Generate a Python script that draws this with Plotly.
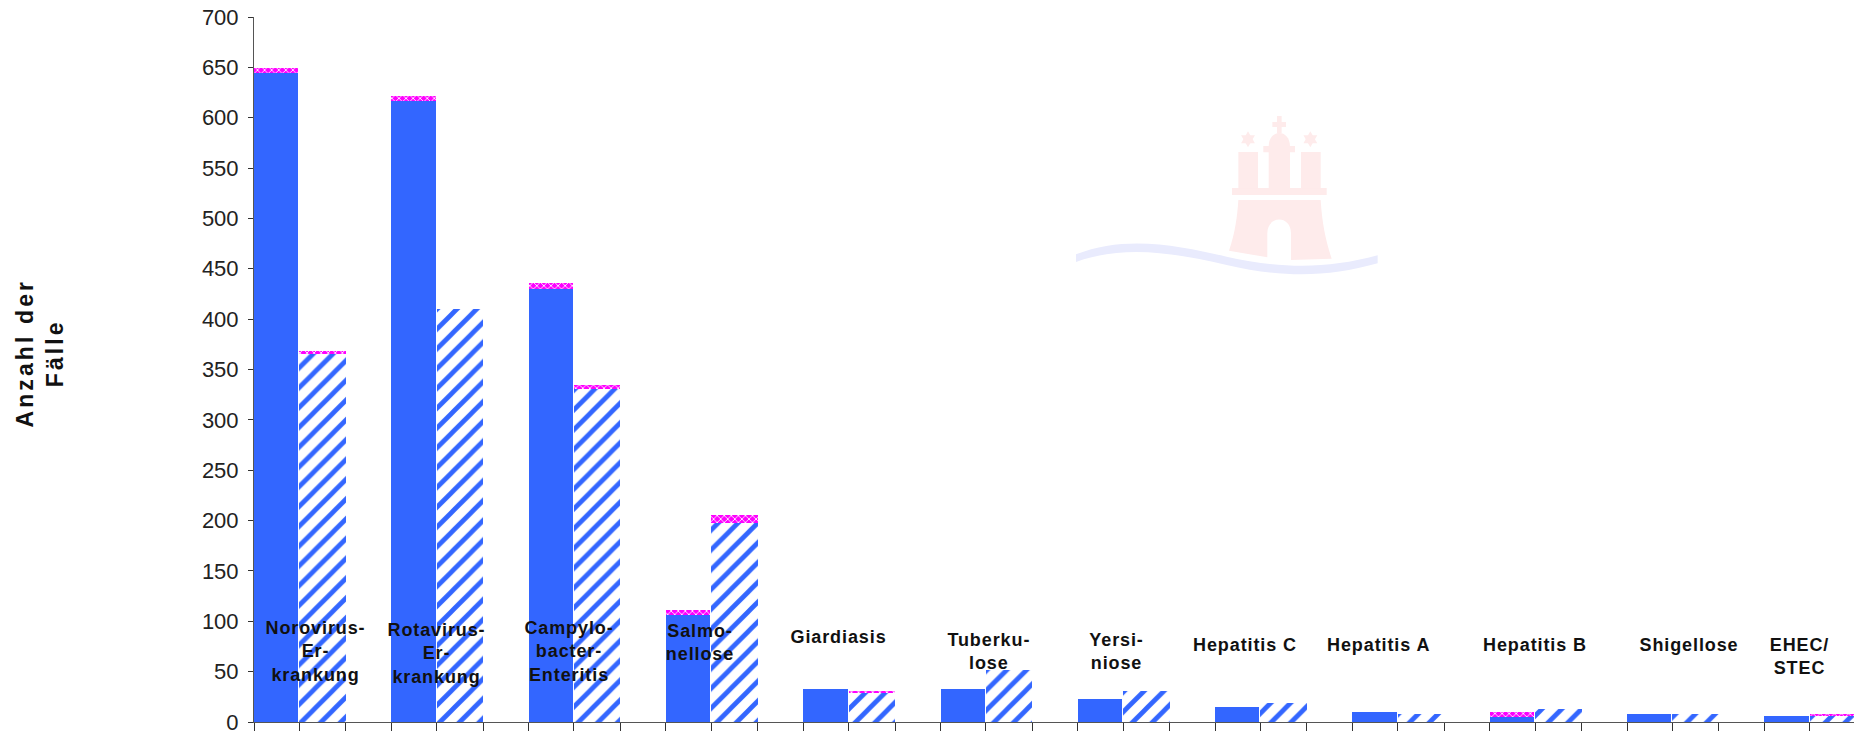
import plotly.graph_objects as go

categories = ["Norovirus-<br>Er-<br>krankung", "Rotavirus-<br>Er-<br>krankung", "Campylo-<br>bacter-<br>Enteritis",
              "Salmo-<br>nellose", "Giardiasis", "Tuberku-<br>lose", "Yersi-<br>niose", "Hepatitis C",
              "Hepatitis A", "Hepatitis B", "Shigellose", "EHEC/<br>STEC"]
solid_base = [644, 617, 430, 106, 33, 33, 23, 15, 10, 5, 8, 6]
solid_top = [5, 5, 6, 5, 0, 0, 0, 0, 0, 5, 0, 0]
hatched_base = [365, 410, 331, 198, 29, 52, 31, 19, 8, 13, 8, 6]
hatched_top = [3, 0, 4, 8, 2, 0, 0, 0, 0, 0, 0, 2]
y_ticks = list(range(0, 701, 50))
y_title = "Anzahl der<br>Fälle"

# Label anchors, in group units from each group's left edge and in axis values
label_dx = [0.448, 0.327, 0.293, 0.25, 0.258, 0.353, 0.284, 0.22, 0.19, 0.332, 0.448, 0.258]
label_y = [70, 68, 70, 79, 84, 70, 70, 76, 76, 76, 76, 65]

W, H = 1854, 731
L, R, T, B = 254, 0, 17, 9
BLUE, MAGENTA = "#3366FF", "#FF00FF"
GROUP_PX = 137.3
groups = list(range(len(categories)))
first_w = 44.3 / GROUP_PX
second_x = 45.3 / GROUP_PX
second_w = 46.5 / GROUP_PX

top_pattern = dict(shape="x", size=5, solidity=0.3, fgcolor="#FFFFFF", fgopacity=1, bgcolor=MAGENTA)
hatch_pattern = dict(shape="/", size=14, solidity=0.34, fgcolor=BLUE, fgopacity=1, bgcolor="#FFFFFF")

fig = go.Figure()
fig.add_bar(x=groups, y=solid_base, width=first_w, offset=0, marker=dict(color=BLUE, line_width=0))
fig.add_bar(x=groups, y=solid_top, width=first_w, offset=0,
            marker=dict(color=MAGENTA, line_width=0, pattern=top_pattern))
hatched_x = [g + second_x for g in groups]
fig.add_bar(x=hatched_x, y=hatched_base, width=second_w, offset=0,
            marker=dict(color="#FFFFFF", line_width=0, pattern=hatch_pattern))
fig.add_bar(x=hatched_x, y=hatched_top, width=second_w, offset=0,
            marker=dict(color=MAGENTA, line_width=0, pattern=top_pattern))


def px(x, y):
    """Emblem drawing units to paper coordinates."""
    X, Y = 1040 + x / 3, 100 + y / 3
    return f"{(X - L) / (W - L - R):.5f},{1 - (Y - T) / (H - T - B):.5f}"


def poly(points):
    return "M" + " L".join(px(*p) for p in points) + " Z"


def rect(x0, y0, x1, y1):
    return poly([(x0, y0), (x1, y0), (x1, y1), (x0, y1)])


def star(cx, cy, r=24):
    dx, dy = r * 0.866, r * 0.5
    return [poly([(cx, cy - r), (cx + dx, cy + dy), (cx - dx, cy + dy)]),
            poly([(cx, cy + r), (cx + dx, cy - dy), (cx - dx, cy - dy)])]


gate = (f"M{px(595, 300)} L{px(842, 300)} C{px(846, 370)} {px(858, 425)} {px(875, 476)} "
        f"L{px(753, 480)} L{px(753, 400)} C{px(753, 345)} {px(682, 345)} {px(682, 400)} "
        f"L{px(682, 472)} L{px(567, 452)} C{px(585, 400)} {px(592, 350)} {px(595, 300)} Z")
dome = f"M{px(686, 140)} C{px(686, 85)} {px(750, 85)} {px(750, 140)} Z"
castle = [gate, dome, rect(576, 264, 860, 285), rect(595, 156, 654, 266), rect(783, 156, 842, 266),
          rect(686, 138, 750, 266), rect(670, 138, 765, 157), rect(711, 48, 725, 100), rect(697, 66, 738, 81),
          *star(624, 118), *star(811, 118)]
wave = (f"M{px(108, 463)} C{px(260, 403)} {px(420, 438)} {px(560, 470)} C{px(720, 506)} {px(860, 508)} {px(1013, 466)} "
        f"L{px(1013, 490)} C{px(860, 534)} {px(720, 532)} {px(560, 495)} C{px(420, 463)} {px(260, 430)} {px(108, 486)} Z")
shapes = [dict(type="path", xref="paper", yref="paper", path=p, fillcolor="#FEEBEB", line_width=0, layer="below")
          for p in castle]
shapes.append(dict(type="path", xref="paper", yref="paper", path=wave, fillcolor="#E9EBFD", line_width=0, layer="below"))

annotations = [dict(x=g + dx, y=v, text=t, xref="x", yref="y", showarrow=False, xanchor="center", yanchor="middle",
                    align="center", font=dict(family="Liberation Sans", size=18, color="#111111", weight="bold"))
               for g, dx, v, t in zip(groups, label_dx, label_y, categories)]
# Rotated axis caption, placed left of the value labels
annotations.append(dict(x=(39.5 - L) / (W - L - R), y=1 - (353.5 - T) / (H - T - B), xref="paper", yref="paper",
                        text=y_title, textangle=-90, showarrow=False, xanchor="center", yanchor="middle", align="center",
                        font=dict(family="Liberation Sans", size=23, color="#111111", weight="bold")))

x_ticks = sorted(g + d for g in groups for d in (0, second_x, second_x + second_w))

fig.update_layout(
    width=W, height=H, margin=dict(l=L, r=R, t=T, b=B, pad=0, autoexpand=False),
    paper_bgcolor="#FFFFFF", plot_bgcolor="rgba(0,0,0,0)",
    barmode="stack", showlegend=False, shapes=shapes, annotations=annotations,
    xaxis=dict(range=[0, (W - L) / GROUP_PX], tickmode="array", tickvals=x_ticks, ticktext=[""] * len(x_ticks),
               ticks="outside", ticklen=8, tickwidth=1, tickcolor="#333333", showline=True, linecolor="#555555",
               linewidth=1, showgrid=False, zeroline=False),
    yaxis=dict(range=[0, 700], tickmode="array", tickvals=y_ticks, ticks="outside", ticklen=5, tickwidth=1,
               tickcolor="#333333", showline=True, linecolor="#555555", linewidth=1, showgrid=False, zeroline=False,
               ticklabelstandoff=5, ticklabeloverflow="allow",
               tickfont=dict(family="Liberation Sans", size=22, color="#222222")),
)

# Widen the tracking of the bold labels once the page has drawn them
spacing = """
var css = document.createElement('style');
css.textContent = '.annotation-text{letter-spacing:0.9px} .annotation[data-index="12"] .annotation-text{letter-spacing:3.1px}';
document.head.appendChild(css);
"""
fig.write_html("out.html", post_script=spacing)
